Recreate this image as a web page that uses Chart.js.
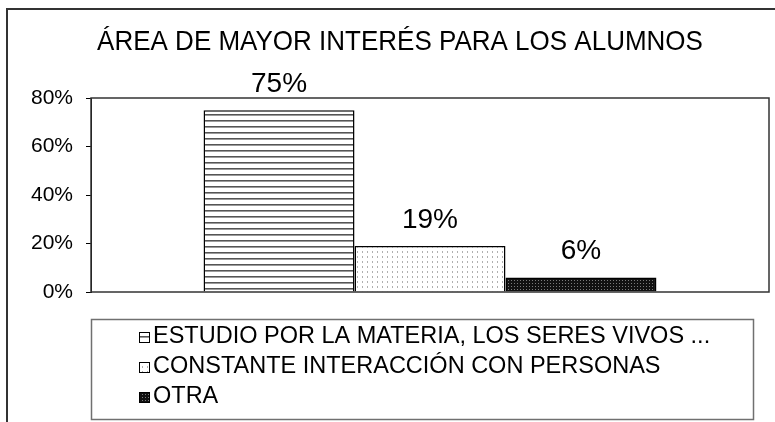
<!DOCTYPE html>
<html>
<head>
<meta charset="utf-8">
<script src="https://cdn.jsdelivr.net/npm/chart.js@4.4.1/dist/chart.umd.min.js"></script>
<style>
  html, body { margin: 0; padding: 0; background: #fff; }
  #wrap { width: 775px; height: 422px; }
</style>
</head>
<body>
<div id="wrap"><canvas id="interestChart" width="775" height="422"></canvas></div>
<script>
const chartTitle = 'ÁREA DE MAYOR INTERÉS PARA LOS ALUMNOS';
const categories = [''];
const seriesLabels = [
  'ESTUDIO POR LA MATERIA, LOS SERES VIVOS ...',
  'CONSTANTE INTERACCIÓN CON PERSONAS',
  'OTRA'
];
const estudioValues = [75];
const interaccionValues = [19];
const otraValues = [6];
const yTicks = [0, 20, 40, 60, 80];

const fontFamily = '"Liberation Sans", Arial, sans-serif';

function makePattern(size, draw) {
  const c = document.createElement('canvas');
  c.width = size[0];
  c.height = size[1];
  const g = c.getContext('2d');
  draw(g);
  return c.getContext('2d').createPattern(c, 'repeat');
}

const stripePattern = makePattern([6, 6], g => {
  g.fillStyle = '#fff';
  g.fillRect(0, 0, 6, 6);
  g.fillStyle = '#555';
  g.fillRect(0, 0, 6, 1);
  g.fillStyle = '#9a9a9a';
  g.fillRect(0, 1, 6, 1);
});

const dotPattern = makePattern([5, 5], g => {
  g.fillStyle = '#fff';
  g.fillRect(0, 0, 5, 5);
  g.fillStyle = '#b0b0b0';
  g.fillRect(2, 1, 1, 2);
});

const darkPattern = makePattern([3, 3], g => {
  g.fillStyle = '#111';
  g.fillRect(0, 0, 3, 3);
  g.fillStyle = '#7a7a7a';
  g.fillRect(1, 1, 1, 1);
});

const fills = [stripePattern, dotPattern, darkPattern];

const framePlugin = {
  id: 'frame',
  beforeDraw(chart) {
    const ctx = chart.ctx;
    ctx.save();
    ctx.fillStyle = '#fff';
    ctx.fillRect(0, 0, chart.width, chart.height);
    ctx.strokeStyle = '#333';
    ctx.lineWidth = 2;
    ctx.strokeRect(7, 9, 820, 460);

    // title, slightly tall like the original
    ctx.fillStyle = '#000';
    ctx.font = '26px ' + fontFamily;
    ctx.textAlign = 'center';
    ctx.textBaseline = 'alphabetic';
    ctx.translate(400, 50);
    ctx.scale(1, 1.08);
    ctx.fillText(chartTitle, 0, 0);
    ctx.restore();
  },
  afterDraw(chart) {
    const ctx = chart.ctx;
    const a = chart.chartArea;
    ctx.save();
    ctx.strokeStyle = '#333';
    ctx.lineWidth = 1.5;
    ctx.strokeRect(a.left, a.top, a.right - a.left, a.bottom - a.top);

    // legend box
    ctx.strokeStyle = '#707070';
    ctx.lineWidth = 1.5;
    ctx.strokeRect(91.5, 319.5, 662, 100);

    ctx.font = '23.5px ' + fontFamily;
    ctx.textBaseline = 'middle';
    ctx.textAlign = 'left';
    chart.data.datasets.forEach((ds, i) => {
      const y = 337 + i * 30;
      ctx.fillStyle = ds.backgroundColor;
      ctx.fillRect(139, y - 5, 11, 11);
      ctx.strokeStyle = '#000';
      ctx.lineWidth = 1;
      ctx.strokeRect(139.5, y - 4.5, 10, 10);
      ctx.fillStyle = '#000';
      ctx.fillText(ds.label, 153, y);
    });
    ctx.restore();
  },
  afterDatasetsDraw(chart) {
    const ctx = chart.ctx;
    ctx.save();
    ctx.fillStyle = '#000';
    ctx.font = '28px ' + fontFamily;
    ctx.textAlign = 'center';
    ctx.textBaseline = 'alphabetic';
    chart.data.datasets.forEach((ds, i) => {
      chart.getDatasetMeta(i).data.forEach((bar, j) => {
        ctx.fillText(ds.data[j] + '%', bar.x, bar.y - 18);
      });
    });
    ctx.restore();
  }
};

const interestChart = new Chart(document.querySelector('#interestChart'), {
  type: 'bar',
  data: {
    labels: categories,
    datasets: [{
      label: seriesLabels[0],
      data: estudioValues,
      backgroundColor: fills[0],
      borderColor: '#000',
      borderWidth: 1.5
    },
    {
      label: seriesLabels[1],
      data: interaccionValues,
      backgroundColor: fills[1],
      borderColor: '#000',
      borderWidth: 1.5
    },
    {
      label: seriesLabels[2],
      data: otraValues,
      backgroundColor: fills[2],
      borderColor: '#000',
      borderWidth: 1.5
    }]
  },
  options: {
    responsive: false,
    animation: false,
    events: [],
    layout: {
      padding: { top: 98, bottom: 130, left: 0, right: 6 }
    },
    datasets: {
      bar: {
        categoryPercentage: 0.668,
        barPercentage: 1
      }
    },
    plugins: {
      legend: { display: false },
      title: { display: false },
      tooltip: { enabled: false }
    },
    scales: {
      x: {
        display: false
      },
      y: {
        min: 0,
        max: 80,
        afterFit(scale) {
          scale.width = 91;
        },
        afterBuildTicks(scale) {
          scale.ticks = yTicks.map(v => ({ value: v }));
        },
        border: { display: true, color: '#000', width: 1 },
        grid: {
          drawOnChartArea: false,
          tickLength: 5,
          color: '#000'
        },
        ticks: {
          padding: 13,
          color: '#000',
          font: { family: fontFamily, size: 21 },
          callback: v => v + '%'
        }
      }
    }
  },
  plugins: [framePlugin]
});
</script>
</body>
</html>
